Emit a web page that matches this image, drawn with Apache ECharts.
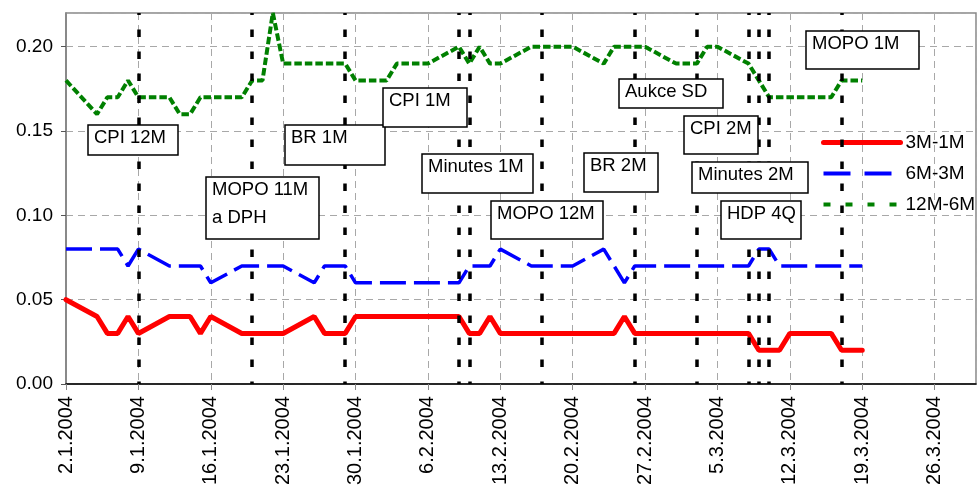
<!DOCTYPE html>
<html>
<head>
<meta charset="utf-8">
<script src="https://cdn.jsdelivr.net/npm/echarts@6/dist/echarts.min.js"></script>
<style>
  html, body { margin: 0; background: #fff; }
  #main { width: 977px; height: 488px; }
</style>
</head>
<body>
<div id="main"></div>
<script>
// obchodni dny
const dates = [
  '2.1.2004', '5.1.2004', '6.1.2004', '7.1.2004', '8.1.2004', '9.1.2004',
  '12.1.2004', '13.1.2004', '14.1.2004', '15.1.2004', '16.1.2004',
  '19.1.2004', '20.1.2004', '21.1.2004', '22.1.2004', '23.1.2004',
  '26.1.2004', '27.1.2004', '28.1.2004', '29.1.2004', '30.1.2004',
  '2.2.2004', '3.2.2004', '4.2.2004', '5.2.2004', '6.2.2004',
  '9.2.2004', '10.2.2004', '11.2.2004', '12.2.2004', '13.2.2004',
  '16.2.2004', '17.2.2004', '18.2.2004', '19.2.2004', '20.2.2004',
  '23.2.2004', '24.2.2004', '25.2.2004', '26.2.2004', '27.2.2004',
  '1.3.2004', '2.3.2004', '3.3.2004', '4.3.2004', '5.3.2004',
  '8.3.2004', '9.3.2004', '10.3.2004', '11.3.2004', '12.3.2004',
  '15.3.2004', '16.3.2004', '17.3.2004', '18.3.2004', '19.3.2004'
];
const spread3m1m = [
  0.05, 0.04, 0.03, 0.03, 0.04, 0.03,
  0.04, 0.04, 0.04, 0.03, 0.04,
  0.03, 0.03, 0.03, 0.03, 0.03,
  0.04, 0.03, 0.03, 0.03, 0.04,
  0.04, 0.04, 0.04, 0.04, 0.04,
  0.04, 0.03, 0.03, 0.04, 0.03,
  0.03, 0.03, 0.03, 0.03, 0.03,
  0.03, 0.03, 0.04, 0.03, 0.03,
  0.03, 0.03, 0.03, 0.03, 0.03,
  0.03, 0.02, 0.02, 0.02, 0.03,
  0.03, 0.03, 0.02, 0.02, 0.02
];
const spread6m3m = [
  0.08, 0.08, 0.08, 0.08, 0.07, 0.08,
  0.07, 0.07, 0.07, 0.07, 0.06,
  0.07, 0.07, 0.07, 0.07, 0.07,
  0.06, 0.07, 0.07, 0.07, 0.06,
  0.06, 0.06, 0.06, 0.06, 0.06,
  0.06, 0.07, 0.07, 0.07, 0.08,
  0.07, 0.07, 0.07, 0.07, 0.07,
  0.08, 0.07, 0.06, 0.07, 0.07,
  0.07, 0.07, 0.07, 0.07, 0.07,
  0.07, 0.08, 0.08, 0.07, 0.07,
  0.07, 0.07, 0.07, 0.07, 0.07
];
const spread12m6m = [
  0.18, 0.16, 0.17, 0.17, 0.18, 0.17,
  0.17, 0.16, 0.16, 0.17, 0.17,
  0.17, 0.18, 0.18, 0.22, 0.19,
  0.19, 0.19, 0.19, 0.19, 0.18,
  0.18, 0.19, 0.19, 0.19, 0.19,
  0.20, 0.19, 0.20, 0.19, 0.19,
  0.20, 0.20, 0.20, 0.20, 0.20,
  0.19, 0.20, 0.20, 0.20, 0.20,
  0.19, 0.19, 0.19, 0.20, 0.20,
  0.19, 0.18, 0.17, 0.17, 0.17,
  0.17, 0.17, 0.18, 0.18, 0.18
];
// udalosti
const eventDates = ['9.1.2004', '20.1.2004', '29.1.2004', '9.2.2004', '10.2.2004', '17.2.2004',
  '26.2.2004', '3.3.2004', '8.3.2004', '9.3.2004', '10.3.2004', '17.3.2004'];
const eventNames = ['CPI 12M', 'MOPO 11M\na DPH', 'BR 1M', 'CPI 1M', 'Minutes 1M', 'MOPO 12M',
  'BR 2M', 'Aukce SD', 'CPI 2M', 'Minutes 2M', 'HDP 4Q', 'MOPO 1M'];
// ramecky popisku [x, y, w, h] v px
const boxes = [
  [88, 125, 90, 30], [206, 177, 113, 62], [285, 125, 100, 40], [383, 88, 84, 39],
  [422, 154, 111, 39], [491, 201, 112, 38], [584, 153, 74, 39], [619, 79, 104, 29],
  [684, 116, 74, 38], [692, 162, 116, 31], [721, 201, 80, 38], [806, 31, 113, 38]
];

const start = Date.UTC(2004, 0, 2);
function dayIndex(s) {
  const p = s.split('.').map(Number);
  return Math.round((Date.UTC(p[2], p[1] - 1, p[0]) - start) / 86400000);
}
function dayLabel(v) {
  const d = new Date(start + v * 86400000);
  return d.getUTCDate() + '.' + (d.getUTCMonth() + 1) + '.' + d.getUTCFullYear();
}
const pairs = (vals) => dates.map((d, i) => [dayIndex(d), vals[i]]);

const FONT = 'Liberation Sans, Arial, sans-serif';
const gridLine = { show: true, lineStyle: { color: '#a8a8a8', type: [7, 5], width: 1 } };

const chart = echarts.init(document.getElementById('main'));

const graphic = boxes.map((b, i) => ({
  type: 'group',
  z: 100,
  children: [
    { type: 'rect', z: 100, shape: { x: b[0], y: b[1], width: b[2], height: b[3] },
      style: { fill: '#fff', stroke: '#000', lineWidth: 1.5 } },
    { type: 'text', z: 101, x: b[0] + 6, y: b[1] - 1,
      style: { text: eventNames[i], font: '18.5px ' + FONT, fill: '#000',
        verticalAlign: 'top', lineHeight: 28 } }
  ]
}));

chart.setOption({
  animation: false,
  grid: { left: 66, right: 1, top: 13, bottom: 101.5, show: true, borderColor: '#888', borderWidth: 1.5 },
  legend: {
    orient: 'vertical', left: 821, top: 133, padding: 0,
    itemWidth: 77, itemHeight: 20, itemGap: 12,
    itemStyle: { opacity: 0 },
    textStyle: { fontFamily: FONT, fontSize: 19, color: '#000' },
    data: [
      { name: '3M-1M', lineStyle: { width: 5, cap: 'round' } },
      { name: '6M-3M', lineStyle: { width: 4, type: [27, 14] } },
      { name: '12M-6M', lineStyle: { width: 4, type: [7, 15] } }
    ]
  },
  xAxis: {
    type: 'value', min: 0, max: 88, interval: 7,
    axisLine: { lineStyle: { color: '#000', width: 1.5 } },
    axisTick: { length: 6, lineStyle: { color: '#888' } },
    axisLabel: { rotate: 90, margin: 12, fontFamily: FONT, fontSize: 20, color: '#000',
      showMaxLabel: false, formatter: dayLabel },
    splitLine: gridLine
  },
  yAxis: {
    type: 'value', min: 0, max: 0.22, interval: 0.05,
    axisLine: { show: true, lineStyle: { color: '#808080', width: 1.5 } },
    axisTick: { show: true, length: 5, lineStyle: { color: '#555' } },
    axisLabel: { margin: 13, fontFamily: FONT, fontSize: 19, color: '#000',
      showMaxLabel: false, formatter: (v) => v.toFixed(2) },
    splitLine: gridLine
  },
  series: [
    {
      name: '3M-1M', type: 'line', data: pairs(spread3m1m), showSymbol: false, symbol: 'none',
      lineStyle: { color: '#ff0000', width: 5, cap: 'round' }, itemStyle: { color: '#ff0000' },
      markLine: {
        silent: true, symbol: 'none', label: { show: false },
        lineStyle: { color: '#000', width: 3.5, type: [7.5, 14.5], dashOffset: 5 },
        data: eventDates.map((d) => ({ xAxis: dayIndex(d) }))
      }
    },
    {
      name: '6M-3M', type: 'line', data: pairs(spread6m3m), showSymbol: false, symbol: 'none',
      lineStyle: { color: '#0000ff', width: 3.5, type: [26, 8] }, itemStyle: { color: '#0000ff' }
    },
    {
      name: '12M-6M', type: 'line', data: pairs(spread12m6m), showSymbol: false, symbol: 'none',
      lineStyle: { color: '#008000', width: 4, type: [7.5, 3] }, itemStyle: { color: '#008000' }
    }
  ],
  graphic: graphic
});
</script>
</body>
</html>
